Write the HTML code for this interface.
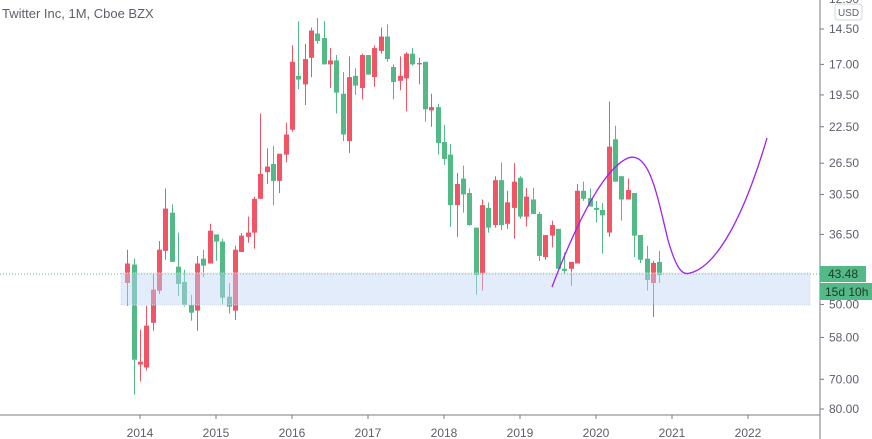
<!DOCTYPE html>
<html><head><meta charset="utf-8"><style>
html,body{margin:0;padding:0;background:#fff;}
body{width:872px;height:439px;overflow:hidden;font-family:"Liberation Sans",sans-serif;}
</style></head><body>
<svg id="chart" width="872" height="439" xmlns="http://www.w3.org/2000/svg" style="display:block">
<text x="2" y="18" font-size="13" fill="#5d606b" font-family="Liberation Sans, sans-serif">Twitter Inc, 1M, Cboe BZX</text>
<line x1="0" y1="274" x2="820" y2="274" stroke="#53b987" stroke-dasharray="1,2"/>
<g id="candles"></g>
<rect x="121" y="273" width="689" height="32" fill="rgba(190,212,245,0.45)" stroke="#d3dcec" stroke-dasharray="1,1"/>
<path d="M552,287 C570,240 600,170 628,158 C650,150 658,200 668,240 C676,268 682,276 690,273 C712,268 740,230 767,138" fill="none" stroke="#a020f0" stroke-width="1.3"/>
<line x1="820" y1="0" x2="820" y2="439" stroke="#787b86"/>
<line x1="0" y1="415" x2="820" y2="415" stroke="#787b86"/>
<g id="yaxis"></g><g id="xaxis"></g>
<text x="829" y="3" font-size="12" fill="#5d606b">12.50</text>
<rect x="835" y="4" width="27" height="16" rx="3" fill="#fff" stroke="#d1d4dc"/>
<text x="848.5" y="16" font-size="10" text-anchor="middle" fill="#5d606b">USD</text>
<rect x="820" y="266" width="46" height="16" fill="#53b987"/>
<text x="828" y="278" font-size="12" fill="#1d3b2c">43.48</text>
<rect x="820" y="283" width="52" height="17" fill="#53b987"/>
<text x="825" y="296" font-size="12" fill="#1d3b2c">15d 10h</text>
</svg>
<script>
const opens=[45.4,41.8,65.5,66.4,54.3,47.0,39.3,33.1,42.2,45.2,50.1,51.4,40.7,41.6,36.5,37.7,48.3,51.4,39.5,36.9,36.2,31.1,27.6,26.6,28.7,25.5,22.8,17.9,18.6,16.5,14.8,15.1,17.0,16.7,19.4,24.0,17.9,18.9,16.3,18.0,16.0,15.0,17.2,18.3,18.1,16.2,17.0,16.8,20.9,20.6,24.1,25.5,32.0,28.4,30.3,35.4,43.4,32.4,35.0,28.6,34.8,32.4,28.3,33.7,31.2,33.3,40.4,36.7,35.6,42.6,42.6,41.6,30.0,31.0,32.4,32.7,36.2,23.8,28.1,31.2,30.3,36.6,40.7,45.4,41.3];
const highs=[50.3,75.0,70.7,67.3,56.3,47.7,40.9,41.3,48.1,50.5,53.8,56.3,44.2,41.6,41.1,50.1,52.1,53.6,39.5,37.9,38.9,31.1,29.1,32.0,30.3,26.4,23.0,19.0,20.4,18.0,15.5,17.0,18.9,21.2,24.0,25.3,19.5,19.9,17.8,18.8,16.2,16.8,19.9,19.1,21.0,17.1,18.6,22.0,22.5,25.5,26.7,35.3,36.9,33.1,35.1,47.9,47.0,36.2,35.4,35.8,35.6,37.2,34.0,35.2,33.3,41.1,40.9,38.7,42.6,43.6,46.0,41.6,31.4,32.2,34.6,39.8,36.9,28.8,34.3,31.2,40.4,41.5,47.0,52.9,45.4];
const lows=[39.1,40.7,56.0,50.3,43.6,37.6,29.7,31.9,36.2,42.8,47.9,40.2,39.1,34.8,36.5,37.2,45.4,38.4,36.3,33.7,30.8,21.2,24.8,24.5,25.4,22.1,15.6,14.0,15.5,14.4,13.8,14.0,15.8,16.3,17.6,16.4,17.3,16.2,16.3,15.6,14.4,14.2,17.0,16.4,16.1,15.8,16.5,16.8,19.4,20.3,22.3,24.3,27.7,26.8,29.7,35.4,31.2,31.6,28.1,26.4,30.0,26.5,28.1,29.6,29.6,33.0,36.6,34.3,35.6,39.6,41.3,29.1,28.8,29.7,31.4,31.7,20.1,22.4,28.1,28.4,30.3,36.6,38.4,41.1,39.3];
const closes=[41.6,64.1,64.7,55.0,46.8,39.1,32.5,41.3,45.6,50.1,51.9,41.6,42.0,35.9,37.7,48.5,50.5,39.1,36.7,36.2,31.1,27.8,26.9,28.7,25.4,23.3,16.8,18.2,16.6,14.6,15.3,17.0,16.7,19.3,23.3,18.0,18.7,16.3,17.8,15.8,15.0,16.6,18.4,17.9,16.2,17.0,16.9,20.8,20.6,24.2,26.0,32.0,29.1,30.5,35.0,43.8,32.0,35.4,28.6,35.0,31.6,28.8,33.7,30.8,33.3,40.2,36.6,35.0,42.6,43.0,41.3,30.0,31.1,32.2,32.7,33.5,24.6,28.8,31.2,29.9,36.7,40.9,44.8,41.5,43.8];
const firstMonthIndex=-2;
const priceTicks=["14.50","17.00","19.50","22.50","26.50","30.50","36.50","50.00","58.00","70.00","80.00"];
const yearLabels=["2014","2015","2016","2017","2018","2019","2020","2021","2022"];
const NS="http://www.w3.org/2000/svg";
function yScale(p){return 29+222.5*(Math.log(p)-Math.log(14.5));}
function xMonth(m){return 140+m*76/12;}
function mk(tag,attrs,parent){const e=document.createElementNS(NS,tag);for(const k in attrs)e.setAttribute(k,attrs[k]);parent.appendChild(e);return e;}
const cg=document.getElementById('candles');
for(let i=0;i<opens.length;i++){
  const x=Math.round(xMonth(firstMonthIndex+i));
  const up=closes[i]>=opens[i];
  const col=up?'#53b987':'#ef5565';
  const g=mk('g',{},cg);
  
  
  const w=mk('line',{x1:x+0.5,x2:x+0.5,y1:yScale(lows[i]),y2:yScale(highs[i]),stroke:col,'stroke-width':1},g);
  
  
  const t=Math.min(yScale(opens[i]),yScale(closes[i])),b=Math.max(yScale(opens[i]),yScale(closes[i]));
  const r=mk('rect',{x:x-2,y:t,width:5,height:Math.max(1,b-t),fill:col},g);
  
  
}
const ya=document.getElementById('yaxis');
priceTicks.forEach(s=>{
  const y=yScale(parseFloat(s));
  const l=mk('line',{x1:820,x2:824,y1:y,y2:y,stroke:'#787b86'},ya);
  
  
  const t=mk('text',{x:829,y:y+4,'font-size':12,fill:'#5d606b'},ya);
  
  
  t.textContent=s;
});
const xa=document.getElementById('xaxis');
yearLabels.forEach((s,i)=>{
  const x=xMonth(i*12);
  const l=mk('line',{x1:x,x2:x,y1:415,y2:419,stroke:'#787b86'},xa);
  
  
  const t=mk('text',{x:x,y:437,'font-size':12,fill:'#5d606b','text-anchor':'middle'},xa);
  
  
  t.textContent=s;
});
</script>
</body></html>
